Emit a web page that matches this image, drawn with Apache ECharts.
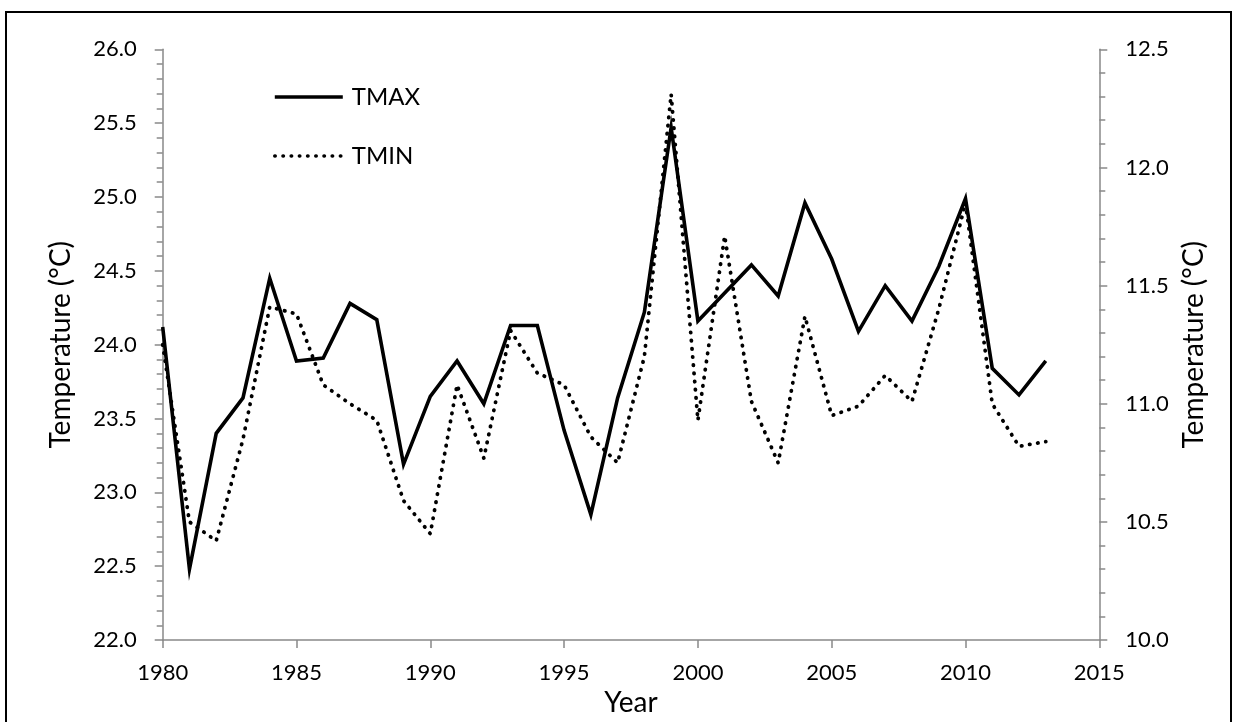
<!DOCTYPE html>
<html><head><meta charset="utf-8">
<script src="https://cdn.jsdelivr.net/npm/echarts@6/dist/echarts.min.js"></script>
<style>html,body{margin:0;padding:0;background:#fff}#c{width:1234px;height:722px}</style>
</head><body><div id="c"></div>
<script>
const years = [1980,1981,1982,1983,1984,1985,1986,1987,1988,1989,1990,1991,1992,1993,1994,1995,1996,1997,1998,1999,2000,2001,2002,2003,2004,2005,2006,2007,2008,2009,2010,2011,2012,2013];
const tmax = [24.12,22.48,23.40,23.64,24.45,23.89,23.91,24.28,24.17,23.19,23.65,23.89,23.60,24.13,24.13,23.42,22.85,23.64,24.22,25.47,24.16,24.35,24.54,24.33,24.96,24.58,24.09,24.40,24.16,24.53,24.99,23.84,23.66,23.89];
const tmin = [11.25,10.50,10.42,10.85,11.41,11.38,11.08,11.00,10.93,10.59,10.45,11.08,10.77,11.31,11.13,11.08,10.86,10.75,11.20,12.31,10.93,11.71,11.01,10.75,11.37,10.95,10.99,11.12,11.01,11.40,11.85,11.00,10.82,10.84];
const seriesNames = ['TMAX','TMIN'];
const xTitle = 'Year';
const yTitle = 'Temperature (°C)';

const FONT = 'Lato';
const axisGray = '#898989';
const chart = echarts.init(document.getElementById('c'), null, {renderer:'canvas'});
const pairs = (vals) => years.map((y,i) => [y, vals[i]]);
const yAxisCommon = {
  type:'value', interval:0.5,
  nameLocation:'middle', nameRotate:90,
  nameTextStyle:{fontFamily:FONT, fontSize:28, color:'#000'},
  axisLine:{show:true, lineStyle:{color:axisGray, width:1.5}},
  axisTick:{show:true, inside:false, length:8, lineStyle:{color:axisGray, width:1.5}},
  minorTick:{show:true, splitNumber:5, length:6, lineStyle:{color:axisGray, width:1.5}},
  splitLine:{show:false},
  axisLabel:{fontFamily:FONT, fontSize:22, color:'#000', margin:26, formatter:v=>v.toFixed(1)}
};
chart.setOption({
  animation:false,
  backgroundColor:'#fff',
  grid:{left:162.7, right:134.7, top:49.3, bottom:77.7, containLabel:false},
  graphic:[{type:'rect', shape:{x:6, y:12, width:1225, height:730}, style:{fill:'none', stroke:'#000', lineWidth:2}, silent:true, z:-1}],
  legend:{
    orient:'vertical', left:268, top:80, itemWidth:68, itemHeight:24, itemGap:35,
    itemStyle:{opacity:0},
    lineStyle:{width:3.6},
    textStyle:{fontFamily:FONT, fontSize:24, color:'#000', padding:[0,0,0,4]},
    data:seriesNames
  },
  xAxis:{
    type:'value', min:1980, max:2015, interval:5,
    name:xTitle, nameLocation:'middle', nameGap:46,
    nameTextStyle:{fontFamily:FONT, fontSize:28, color:'#000'},
    axisLine:{lineStyle:{color:axisGray, width:1.5}},
    axisTick:{show:true, length:8, lineStyle:{color:axisGray, width:1.5}},
    splitLine:{show:false},
    axisLabel:{fontFamily:FONT, fontSize:22, color:'#000', margin:22, formatter:v=>String(v)}
  },
  yAxis:[
    Object.assign({}, yAxisCommon, {min:22, max:26, position:'left', name:yTitle, nameGap:88}),
    Object.assign({}, yAxisCommon, {min:10, max:12.5, position:'right', name:yTitle, nameGap:80})
  ],
  series:[
    {name:seriesNames[0], type:'line', yAxisIndex:0, data:pairs(tmax), symbol:'none', smooth:false,
     lineStyle:{color:'#000', width:3.6, type:'solid', join:'miter'}, itemStyle:{color:'#000'}, z:3},
    {name:seriesNames[1], type:'line', yAxisIndex:1, data:pairs(tmin), symbol:'none', smooth:false,
     lineStyle:{color:'#000', width:3.8, type:[0.4,7.8], cap:'round'}, itemStyle:{color:'#000'}, z:2}
  ]
});
</script></body></html>
